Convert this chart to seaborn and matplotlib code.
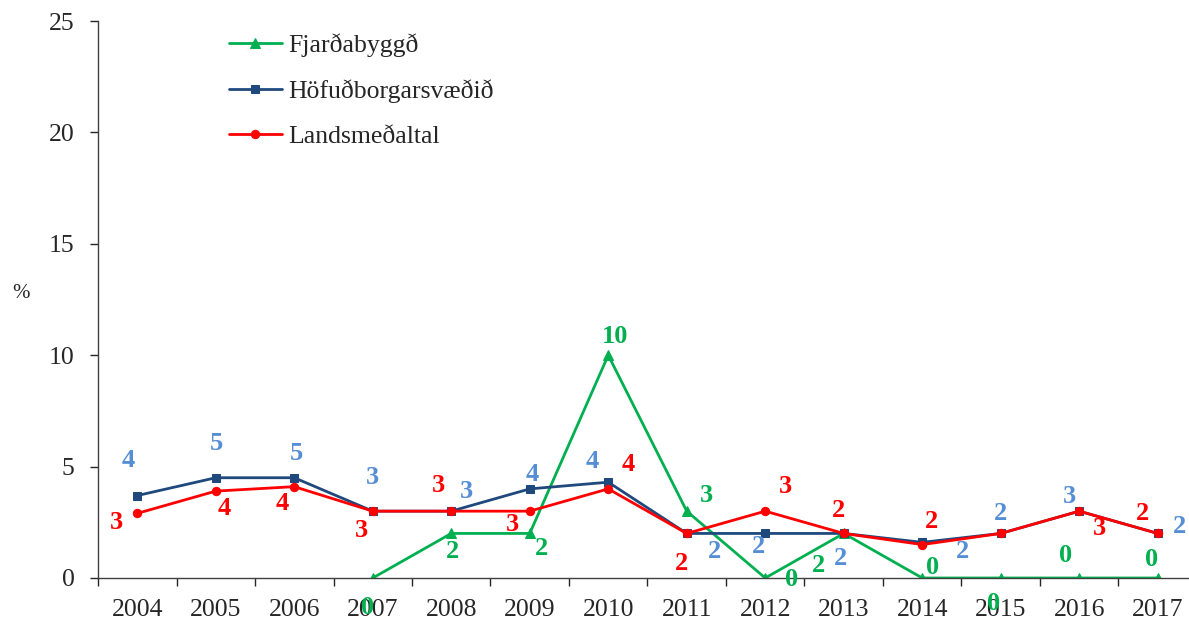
import numpy as np
import pandas as pd
import matplotlib
matplotlib.use("Agg")
import matplotlib.pyplot as plt
import seaborn as sns

# Data
years = ["2004", "2005", "2006", "2007", "2008", "2009", "2010",
         "2011", "2012", "2013", "2014", "2015", "2016", "2017"]
fjardabyggd = [np.nan, np.nan, np.nan, 0, 2, 2, 10, 3, 0, 2, 0, 0, 0, 0]
hofudborg = [3.7, 4.5, 4.5, 3.0, 3.0, 4.0, 4.3, 2.0, 2.0, 2.0, 1.6, 2.0, 3.0, 2.0]
landsmedaltal = [2.9, 3.9, 4.1, 3.0, 3.0, 3.0, 4.0, 2.0, 3.0, 2.0, 1.5, 2.0, 3.0, 2.0]
series_names = ["Fjarðabyggð", "Höfuðborgarsvæðið", "Landsmeðaltal"]

# Styling
line_colors = ["#00B050", "#1F497D", "#FF0000"]
label_colors = ["#00B050", "#558ED5", "#FF0000"]
markers = ["^", "s", "o"]
marker_sizes = [6.5, 5.5, 6]

# Data-label offsets in pixels (dx, dy); None = no label
offsets_fj = [None, None, None, (-5, -29), (1, -18), (12, -15), (7, 19),
              (20, 16), (26, -1), (-25, -32), (10, 10), (-7, -25), (-14, 23), (-6, 18)]
offsets_ho = [(-9, 35), (1, 34), (2, 24), (0, 34), (15, 20), (3, 14), (-16, 21),
              (28, -18), (-7, -13), (-3, -25), (40, -9), (0, 20), (-10, 15), (22, 7)]
offsets_la = [(-21, -9), (8, -17), (-12, -17), (-11, -19), (-13, 26), (-17, -13), (20, 24),
              (-5, -30), (20, 25), (-5, 23), (9, 23), None, (20, -17), (-15, 20)]

sns.set_style("ticks")
plt.rcParams["font.family"] = ["Liberation Serif", "DejaVu Serif"]

fig = plt.figure(figsize=(11.89, 6.22), dpi=100)
ax = fig.add_axes([98 / 1189, 44 / 622, 1099 / 1189, 557 / 622])

x = np.arange(len(years))
all_values = [fjardabyggd, hofudborg, landsmedaltal]
all_offsets = [offsets_fj, offsets_ho, offsets_la]

for name, vals, lc, mk, ms in zip(series_names, all_values, line_colors, markers, marker_sizes):
    df = pd.DataFrame({"x": x, "y": vals}).dropna()
    sns.lineplot(data=df, x="x", y="y", ax=ax, color=lc, linewidth=2,
                 marker=mk, markersize=ms, markeredgecolor=lc, label=name)

for vals, offs, tc in zip(all_values, all_offsets, label_colors):
    for xi, v, off in zip(x, vals, offs):
        if off is None or np.isnan(v):
            continue
        ax.annotate(str(int(np.floor(v + 0.5))), xy=(xi, v), xytext=off,
                    textcoords="offset pixels", ha="center", va="center",
                    color=tc, fontsize=19, fontweight="bold", clip_on=False)

ax.set_xlim(-0.5, 13.5)
ax.set_ylim(0, 25)
ax.set_yticks([0, 5, 10, 15, 20, 25])
ax.set_xticks(x)
ax.set_xticklabels(years)
ax.set_xticks(np.arange(-0.5, 14, 1), minor=True)
ax.tick_params(axis="x", which="major", length=0, pad=15, labelsize=18.5)
ax.tick_params(axis="x", which="minor", length=6, width=1, direction="out")
ax.tick_params(axis="y", length=6, width=1, direction="out", pad=11, labelsize=18.5)
ax.set_xlabel("")
ax.set_ylabel("%", rotation=0, fontsize=15, labelpad=0)
ax.yaxis.label.set_va("center")
ax.yaxis.label.set_ha("center")
ax.yaxis.set_label_coords(-77 / 1099, (578 - 293) / 557)
sns.despine(ax=ax)
for s in ["left", "bottom"]:
    ax.spines[s].set_linewidth(1)
    ax.spines[s].set_color("#404040")

leg = ax.legend(loc="upper left", bbox_to_anchor=(229 / 1189, 1 - 33 / 622),
                bbox_transform=fig.transFigure, frameon=False, fontsize=18.5,
                handlelength=2.05, handletextpad=0.25, labelspacing=0.87,
                borderaxespad=0, borderpad=0)

fig.savefig("out.png", dpi=100)
